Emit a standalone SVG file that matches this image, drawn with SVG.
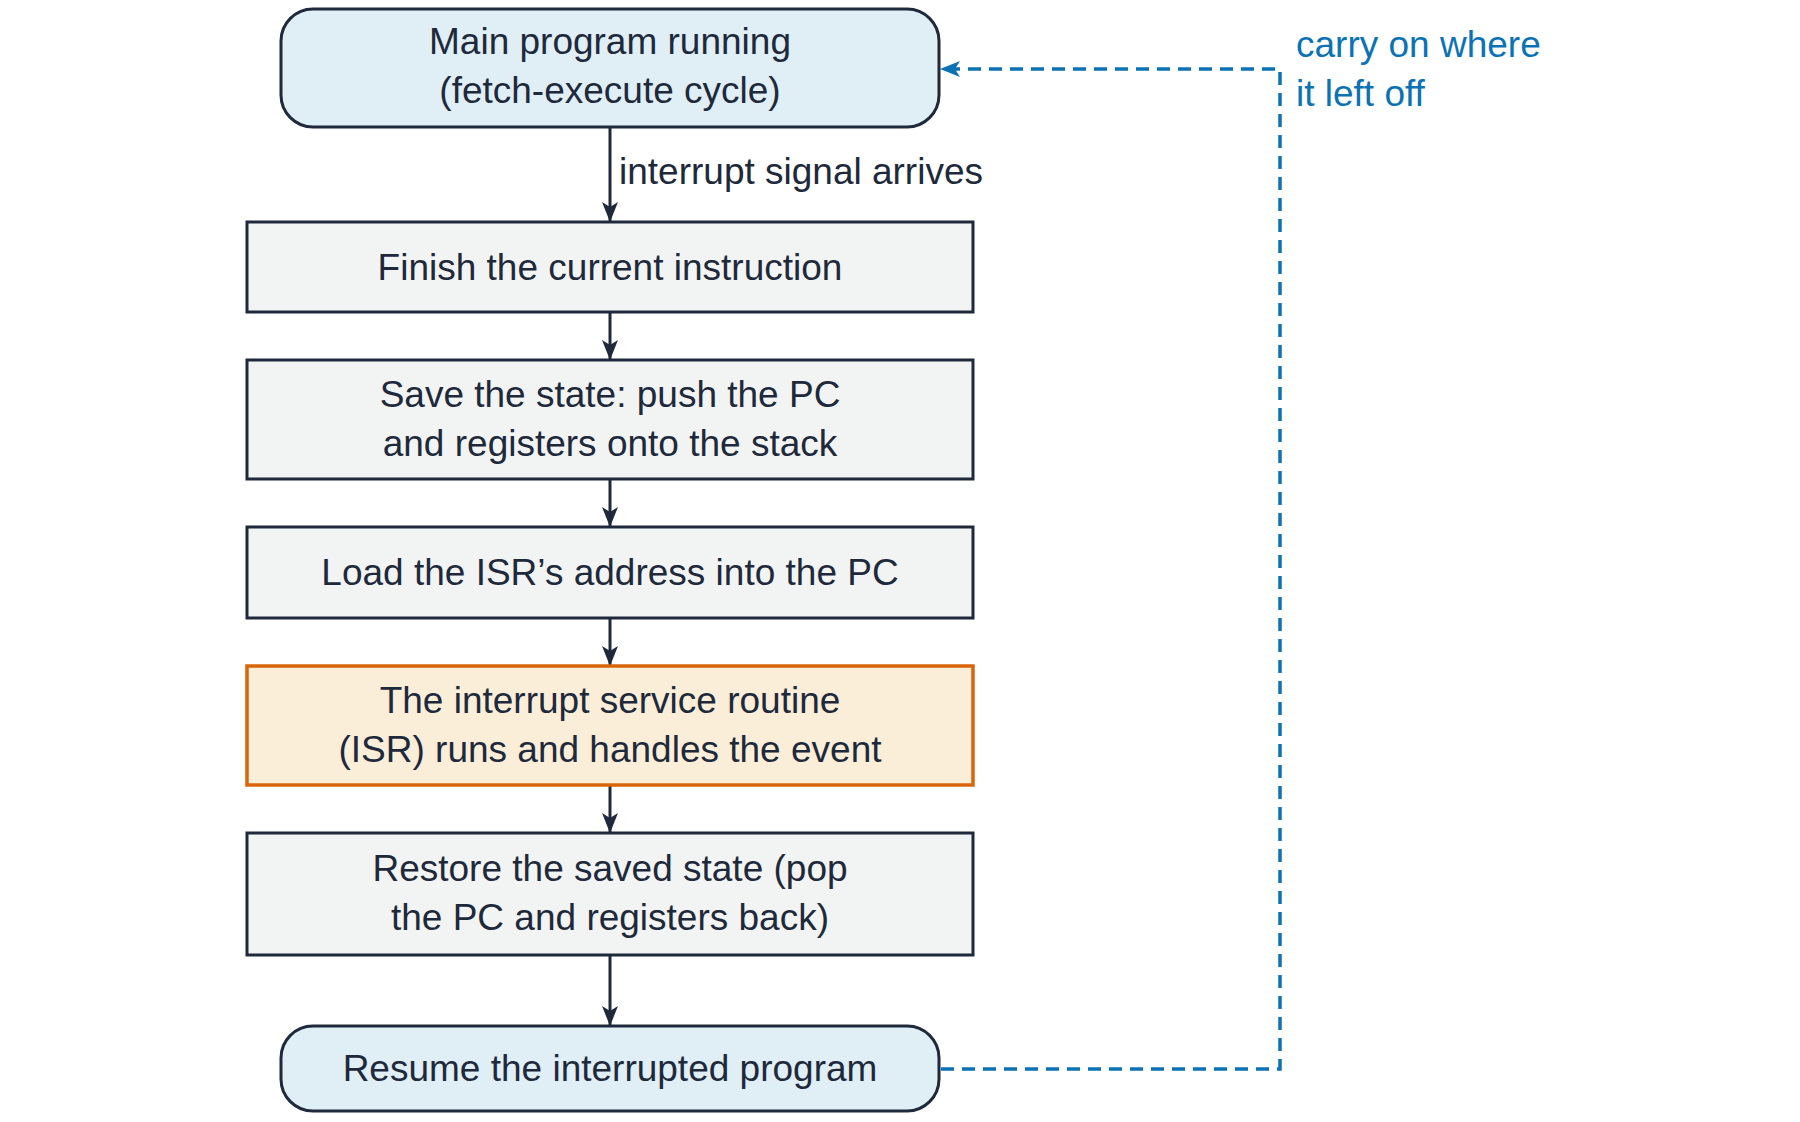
<svg xmlns="http://www.w3.org/2000/svg" width="1800" height="1122" viewBox="0 0 1800 1122">
<style>
  text { font-family: "Liberation Sans", Arial, sans-serif; font-size: 37px; fill: #1e293b; text-anchor: middle; }
  .term { fill: #e0eef6; stroke: #1e293b; stroke-width: 3; }
  .proc { fill: #f2f4f3; stroke: #1e293b; stroke-width: 3; }
  .isr { fill: #fbeed8; stroke: #d9650b; stroke-width: 3.5; }
  .flow { fill: none; stroke: #1e293b; stroke-width: 3; marker-end: url(#ah); }
  .back { fill: none; stroke: #0b72b5; stroke-width: 3.5; stroke-dasharray: 13 8; marker-end: url(#ahb); }
  .lbl { text-anchor: start; }
  .blue { fill: #0b72b5; text-anchor: start; }
</style>
<defs>
  <marker id="ah" viewBox="0 0 20 16" refX="19" refY="8" markerWidth="20" markerHeight="16" orient="auto" markerUnits="userSpaceOnUse">
    <path d="M0,0 L20,8 L0,16 L5,8 z" fill="#1e293b"/>
  </marker>
  <marker id="ahb" viewBox="0 0 20 16" refX="19" refY="8" markerWidth="20" markerHeight="16" orient="auto" markerUnits="userSpaceOnUse">
    <path d="M0,0 L20,8 L0,16 L5,8 z" fill="#0b72b5"/>
  </marker>
</defs>
<rect width="1800" height="1122" fill="#ffffff"/>
<g id="connectors">
  <line class="flow" x1="610" y1="128" x2="610" y2="221"/>
  <line class="flow" x1="610" y1="313" x2="610" y2="359"/>
  <line class="flow" x1="610" y1="480" x2="610" y2="526"/>
  <line class="flow" x1="610" y1="619" x2="610" y2="665"/>
  <line class="flow" x1="610" y1="786" x2="610" y2="832"/>
  <line class="flow" x1="610" y1="956" x2="610" y2="1025"/>
  <polyline class="back" points="941,1069 1280,1069 1280,69 941,69"/>
  <text class="lbl" x="619" y="184">interrupt signal arrives</text>
  <text class="blue" x="1296" y="57">carry on where</text>
  <text class="blue" x="1296" y="106">it left off</text>
</g>
<g id="main">
  <rect class="term" x="281" y="9" width="658" height="118" rx="32" ry="32"/>
  <text x="610" y="54">Main program running</text>
  <text x="610" y="103">(fetch-execute cycle)</text>
</g>
<g id="finish">
  <rect class="proc" x="247" y="222" width="726" height="90"/>
  <text x="610" y="280">Finish the current instruction</text>
</g>
<g id="save">
  <rect class="proc" x="247" y="360" width="726" height="119"/>
  <text x="610" y="407">Save the state:  push the PC</text>
  <text x="610" y="456">and registers onto the stack</text>
</g>
<g id="load">
  <rect class="proc" x="247" y="527" width="726" height="91"/>
  <text x="610" y="585">Load the ISR’s address into the PC</text>
</g>
<g id="isr">
  <rect class="isr" x="247" y="666" width="726" height="119"/>
  <text x="610" y="713">The interrupt service routine</text>
  <text x="610" y="762">(ISR) runs and handles the event</text>
</g>
<g id="restore">
  <rect class="proc" x="247" y="833" width="726" height="122"/>
  <text x="610" y="881">Restore the saved state (pop</text>
  <text x="610" y="930">the PC and registers back)</text>
</g>
<g id="resume">
  <rect class="term" x="281" y="1026" width="658" height="85" rx="32" ry="32"/>
  <text x="610" y="1081">Resume the interrupted program</text>
</g>
</svg>
